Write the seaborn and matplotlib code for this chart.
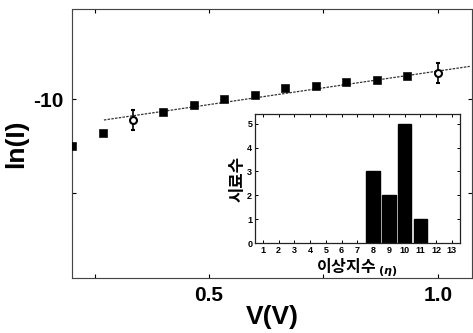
import matplotlib
matplotlib.use("Agg")
import matplotlib.pyplot as plt
import seaborn as sns
from matplotlib.ticker import FixedLocator

# main panel: ln(I) vs V
voltage = [0.200, 0.267, 0.333, 0.400, 0.467, 0.533, 0.600,
           0.667, 0.733, 0.800, 0.867, 0.933, 1.000]
ln_current = [-10.50, -10.36, -10.22, -10.13, -10.06, -10.00, -9.95,
              -9.88, -9.86, -9.82, -9.79, -9.75, -9.72]
# points drawn open with error bars
err_v = [0.333, 1.000]
err_ln = [-10.22, -9.72]
err_size = [0.11, 0.11]
# linear fit line end points
fit_v = [0.27, 1.07]
fit_ln = [-10.22, -9.65]

# inset histogram
eta = [8, 9, 10, 11]
n_samples = [3, 2, 5, 1]
eta_ticks = list(range(1, 14))
count_ticks = [0, 1, 2, 3, 4, 5]

sns.set_style("ticks")
plt.rcParams["font.family"] = ["Liberation Sans", "Noto Sans CJK KR"]
plt.rcParams["font.weight"] = "bold"
for key in ["text.color", "axes.labelcolor", "xtick.color", "ytick.color"]:
    plt.rcParams[key] = "black"

fig = plt.figure(figsize=(4.73, 3.33), dpi=100)
ax = fig.add_axes([0.152, 0.165, 0.846, 0.808])

sns.lineplot(x=fit_v, y=fit_ln, ax=ax, color="#333333", linewidth=0.9,
             linestyle=(0, (2, 1)))
solid = [(v, l) for v, l in zip(voltage, ln_current) if v not in err_v]
sns.scatterplot(x=[p[0] for p in solid], y=[p[1] for p in solid], ax=ax,
                marker="s", s=30, color="black", edgecolor="black", zorder=3)
ax.errorbar(err_v, err_ln, yerr=err_size, fmt="o", mfc="white", mec="black",
            ecolor="black", ms=5, mew=1.5, capsize=1.5, elinewidth=1.2, zorder=4)

ax.set_xlim(0.2, 1.075)
ax.set_ylim(-11.9, -9.04)
ax.xaxis.set_major_locator(FixedLocator([0.5, 1.0]))
ax.xaxis.set_minor_locator(FixedLocator([0.25, 0.75]))
ax.yaxis.set_major_locator(FixedLocator([-10]))
ax.yaxis.set_minor_locator(FixedLocator([-11]))
ax.set_xticklabels(["0.5", "1.0"])
ax.set_yticklabels(["-10"])
ax.tick_params(which="both", direction="in", top=True, right=True,
               length=3, width=0.8, labelsize=15, pad=6)
ax.set_xlabel("V(V)", fontsize=19, fontweight="bold", labelpad=0)
ax.set_ylabel("ln(I)", fontsize=19, fontweight="bold", labelpad=4)
for sp in ax.spines.values():
    sp.set_color("#444444")
    sp.set_linewidth(0.8)
    sp.set_linestyle((0, (1, 0.4)))

# inset
ins = fig.add_axes([0.539, 0.27, 0.433, 0.387])
sns.barplot(x=eta, y=n_samples, ax=ins, native_scale=True, width=0.85,
            color="black", edgecolor="black", saturation=1)
ins.set_xlim(0.5, 13.5)
ins.set_ylim(0, 5.4)
ins.set_xticks(eta_ticks)
ins.set_yticks(count_ticks)
ins.set_xticklabels([str(t) for t in eta_ticks])
ins.tick_params(which="both", direction="in", top=True, right=True,
                length=2, width=0.7, labelsize=6.5, pad=2)
ins.set_xlabel("이상지수 $_{(\\eta)}$", fontsize=11.5, fontweight="bold",
               family=["Noto Sans CJK KR", "DejaVu Sans"], labelpad=1)
ins.set_ylabel("시료수", fontsize=12, fontweight="bold",
               family=["Noto Sans CJK KR", "DejaVu Sans"], labelpad=0)
for sp in ins.spines.values():
    sp.set_color("#222222")
    sp.set_linewidth(0.9)

fig.savefig("out.png", dpi=100)
